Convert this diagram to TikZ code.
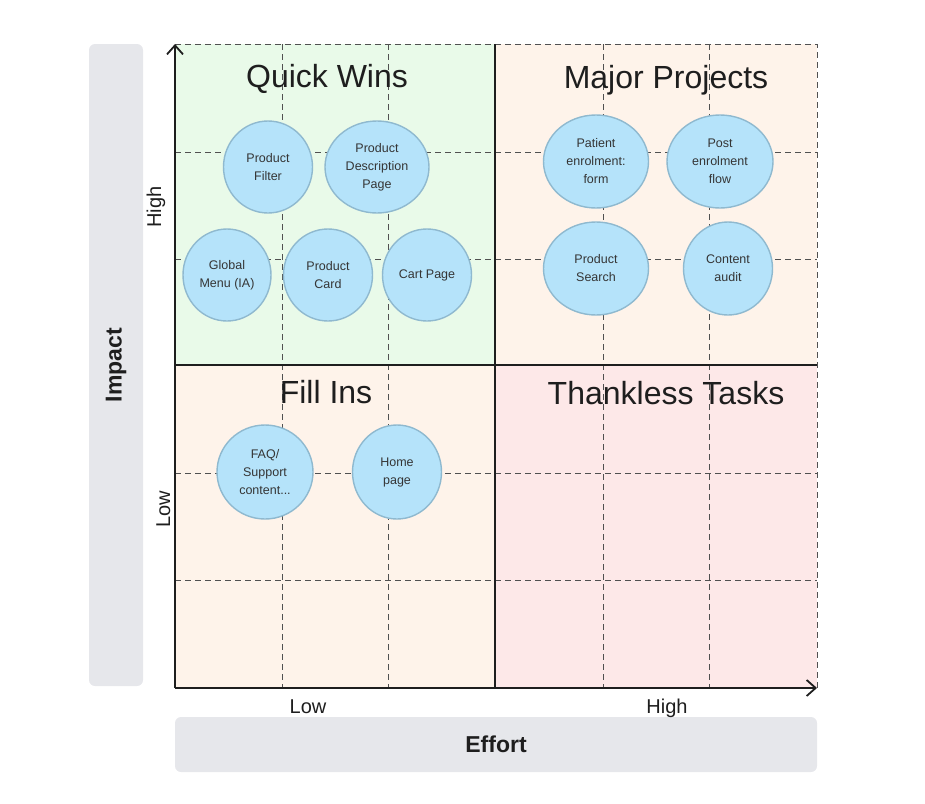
\documentclass[tikz,border=0pt]{standalone}
\usepackage{fontspec}
\setmainfont{Liberation Sans}
\usepackage{xcolor}
\usepackage{tikz}
\usetikzlibrary{arrows.meta, shapes.geometric}
\definecolor{winsc}{RGB}{233,250,233}
\definecolor{majorc}{RGB}{254,243,234}
\definecolor{thanklessc}{RGB}{253,232,232}
\definecolor{bubblec}{RGB}{181,227,250}
\definecolor{bubbleedge}{RGB}{143,185,207}
\definecolor{barc}{RGB}{230,231,235}
\definecolor{inkc}{RGB}{30,30,30}
\definecolor{gridc}{RGB}{80,80,80}

\begin{document}
\begin{tikzpicture}[x=1pt, y=-1pt,
    idea/.style={ellipse, draw=bubbleedge, line width=1.4pt, fill=bubblec, inner sep=0pt,
      align=center, text=inkc!90, font=\fontsize{12.5}{18}\selectfont},
    quadtitle/.style={anchor=base, text=inkc, font=\fontsize{32}{38}\selectfont},
    level/.style={anchor=base, text=inkc, font=\fontsize{20}{24}\selectfont},
    bar/.style={fill=barc, rounded corners=6pt, text=inkc, font=\bfseries\fontsize{23}{28}\selectfont},
    axisline/.style={-{Straight Barb[length=9pt, width=16pt, line width=1.8pt]}, line width=2pt, inkc},
    guide/.style={gridc, line width=1pt, dash pattern=on 6pt off 4pt}]
  \useasboundingbox (0,0) rectangle (925,803);
  \coordinate (origin) at (175,688);
  \coordinate (ytip) at (175,44);
  \coordinate (xtip) at (817,688);
  % quadrants
  \fill[winsc] (175,44) rectangle (495,365);
  \fill[majorc] (495,44) rectangle (817,365);
  \fill[majorc] (175,365) rectangle (495,688);
  \fill[thanklessc] (495,365) rectangle (817,688);
  \foreach \gx in {282,388,603,709} \draw[guide] (\gx,44) -- (\gx,688);
  \foreach \gy in {152,259,473,580} \draw[guide] (175,\gy) -- (817,\gy);
  \draw[guide] (ytip) -- (817,44) -- (xtip);
  \draw[inkc, line width=2pt] (495,44) -- (495,688);
  \draw[inkc, line width=2pt] (175,365) -- (817,365);
  \draw[axisline] (origin) -- (ytip);
  \draw[axisline] (origin) -- (xtip);
  % axis bars and levels
  \node (impact) [bar, rotate=90, minimum width=642pt, minimum height=54pt] at (116,365) {Impact};
  \node (effort) [bar, minimum width=642pt, minimum height=55pt] at (496,744.5) {Effort};
  \node (efflow) [level] at (308,713) {Low};
  \node (effhigh) [level] at (667,713) {High};
  \node (imphigh) [level, rotate=90] at (161,207) {High};
  \node (implow) [level, rotate=90] at (170,509) {Low};
  % titles
  \node (wins) [quadtitle] at (327,87) {Quick Wins};
  \node (major) [quadtitle] at (666,88) {Major Projects};
  \node (fillins) [quadtitle] at (326,403) {Fill Ins};
  \node (thankless) [quadtitle] at (666,404) {Thankless Tasks};
  % items
  \node (filter) [idea, minimum width=89pt, minimum height=92pt] at (268,167) {Product\\Filter};
  \node (pdp) [idea, minimum width=104pt, minimum height=92pt] at (377,167) {Product\\Description\\Page};
  \node (menu) [idea, minimum width=88pt, minimum height=92pt] at (227,275) {Global\\Menu (IA)};
  \node (card) [idea, minimum width=89pt, minimum height=92pt] at (328,275) {Product\\Card};
  \node (cart) [idea, minimum width=89pt, minimum height=92pt] at (427,275) {Cart Page};
  \node (patient) [idea, minimum width=105pt, minimum height=93pt] at (596,161.5) {Patient\\enrolment:\\form};
  \node (post) [idea, minimum width=106pt, minimum height=93pt] at (720,161.5) {Post\\enrolment\\flow};
  \node (search) [idea, minimum width=105pt, minimum height=93pt] at (596,268.5) {Product\\Search};
  \node (audit) [idea, minimum width=89pt, minimum height=93pt] at (728,268.5) {Content\\audit};
  \node (faq) [idea, minimum width=96pt, minimum height=94pt] at (265,472) {FAQ/\\Support\\content...};
  \node (home) [idea, minimum width=89pt, minimum height=94pt] at (397,472) {Home\\page};
\end{tikzpicture}
\end{document}
